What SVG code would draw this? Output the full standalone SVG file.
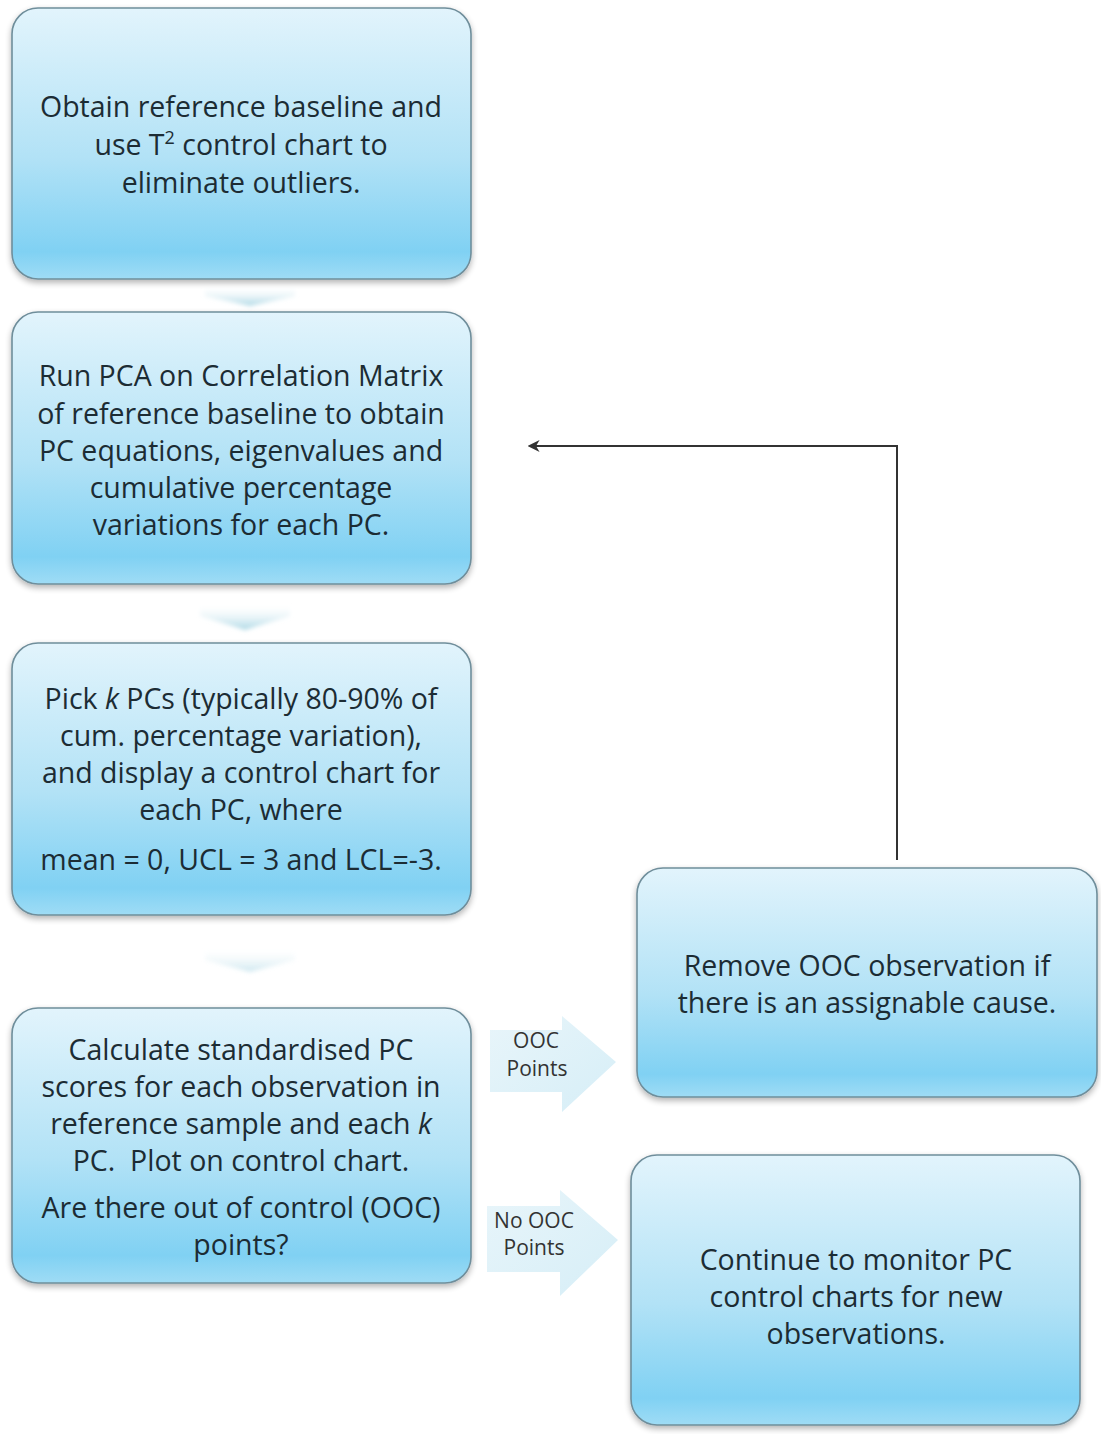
<svg xmlns="http://www.w3.org/2000/svg" width="1101" height="1434" viewBox="0 0 1101 1434">
  <defs>
    <linearGradient id="boxFill" x1="0" y1="0" x2="0" y2="1">
      <stop offset="0" stop-color="#e2f4fc"/>
      <stop offset="0.55" stop-color="#b2e2f6"/>
      <stop offset="0.9" stop-color="#80d1f3"/>
      <stop offset="1" stop-color="#9fdcf5"/>
    </linearGradient>
    <linearGradient id="arrowFill" x1="0" y1="0" x2="1" y2="1">
      <stop offset="0" stop-color="#e8f5fa"/>
      <stop offset="1" stop-color="#d6eef7"/>
    </linearGradient>
    <linearGradient id="chevFill" x1="0" y1="0" x2="0" y2="1">
      <stop offset="0" stop-color="#ffffff" stop-opacity="0"/>
      <stop offset="1" stop-color="#a9d6e4"/>
    </linearGradient>
    <filter id="shadow" x="-5%" y="-5%" width="110%" height="115%">
      <feGaussianBlur in="SourceAlpha" stdDeviation="3"/>
      <feOffset dx="0" dy="3" result="b"/>
      <feComponentTransfer><feFuncA type="linear" slope="0.3"/></feComponentTransfer>
      <feMerge><feMergeNode/><feMergeNode in="SourceGraphic"/></feMerge>
    </filter>
    <filter id="soft" x="-20%" y="-50%" width="140%" height="200%">
      <feGaussianBlur stdDeviation="2"/>
    </filter>
    <marker id="head" viewBox="0 0 10 10" refX="8" refY="5" markerWidth="6" markerHeight="6" orient="auto">
      <path d="M0,0 L10,5 L0,10 L3,5 Z" fill="#333"/>
    </marker>
  </defs>
  <style>
    .box { fill: url(#boxFill); stroke: #6f8e9b; stroke-width: 1.6; filter: url(#shadow); }
    .t { font-family: "Open Sans", "Liberation Sans", sans-serif; font-size: 28.5px; font-weight: 500; fill: #1c2c34; text-anchor: middle; }
    .lbl { font-family: "Open Sans", "Liberation Sans", sans-serif; font-size: 21px; fill: #333; text-anchor: middle; }
    .blk { fill: url(#arrowFill); stroke: none; }
    .chev { fill: url(#chevFill); filter: url(#soft); }
    .conn { fill: none; stroke: #333; stroke-width: 2; }
  </style>

  <rect width="1101" height="1434" fill="#ffffff"/>

  <!-- flow chevrons and connectors -->
  <g id="connectors">
    <path class="chev" d="M205,286 L295,286 L295,296 L250,306 L205,296 Z"/>
    <path class="chev" d="M200,604 L290,604 L290,616 L245,630 L200,616 Z"/>
    <path class="chev" d="M205,948 L295,948 L295,960 L250,972 L205,960 Z" opacity="0.6"/>
    <path class="blk" d="M490,1030 L562,1030 L562,1016 L616,1062 L562,1112 L562,1092 L490,1092 Z"/>
    <path class="blk" d="M487,1206 L560,1206 L560,1190 L618,1240 L560,1296 L560,1272 L487,1272 Z"/>
    <text class="lbl" x="536" y="1048">OOC</text>
    <text class="lbl" x="537" y="1076">Points</text>
    <text class="lbl" x="534" y="1228">No OOC</text>
    <text class="lbl" x="534" y="1255">Points</text>
    <path class="conn" d="M897,860 L897,446 L530,446" marker-end="url(#head)"/>
  </g>

  <g id="n1">
    <rect class="box" x="12" y="8" width="459" height="271" rx="26"/>
    <text class="t" x="241" y="117">Obtain reference baseline and</text>
    <text class="t" x="241" y="155">use T<tspan font-size="18" dy="-11">2</tspan><tspan dy="11"> control chart to</tspan></text>
    <text class="t" x="241" y="193">eliminate outliers.</text>
  </g>

  <g id="n2">
    <rect class="box" x="12" y="312" width="459" height="272" rx="26"/>
    <text class="t" x="241" y="386">Run PCA on Correlation Matrix</text>
    <text class="t" x="241" y="424">of reference baseline to obtain</text>
    <text class="t" x="241" y="461">PC equations, eigenvalues and</text>
    <text class="t" x="241" y="498">cumulative percentage</text>
    <text class="t" x="241" y="535">variations for each PC.</text>
  </g>

  <g id="n3">
    <rect class="box" x="12" y="643" width="459" height="272" rx="26"/>
    <text class="t" x="241" y="709">Pick <tspan font-style="italic">k</tspan> PCs (typically 80-90% of</text>
    <text class="t" x="241" y="746">cum. percentage variation),</text>
    <text class="t" x="241" y="783">and display a control chart for</text>
    <text class="t" x="241" y="820">each PC, where</text>
    <text class="t" x="241" y="870">mean = 0, UCL = 3 and LCL=-3.</text>
  </g>

  <g id="n4">
    <rect class="box" x="12" y="1008" width="459" height="275" rx="26"/>
    <text class="t" x="241" y="1060">Calculate standardised PC</text>
    <text class="t" x="241" y="1097">scores for each observation in</text>
    <text class="t" x="241" y="1134">reference sample and each <tspan font-style="italic">k</tspan></text>
    <text class="t" x="241" y="1171" xml:space="preserve">PC.  Plot on control chart.</text>
    <text class="t" x="241" y="1218">Are there out of control (OOC)</text>
    <text class="t" x="241" y="1255">points?</text>
  </g>

  <g id="n5">
    <rect class="box" x="637" y="868" width="460" height="229" rx="26"/>
    <text class="t" x="867" y="976">Remove OOC observation if</text>
    <text class="t" x="867" y="1013">there is an assignable cause.</text>
  </g>

  <g id="n6">
    <rect class="box" x="631" y="1155" width="449" height="270" rx="26"/>
    <text class="t" x="856" y="1270">Continue to monitor PC</text>
    <text class="t" x="856" y="1307">control charts for new</text>
    <text class="t" x="856" y="1344">observations.</text>
  </g>
</svg>
